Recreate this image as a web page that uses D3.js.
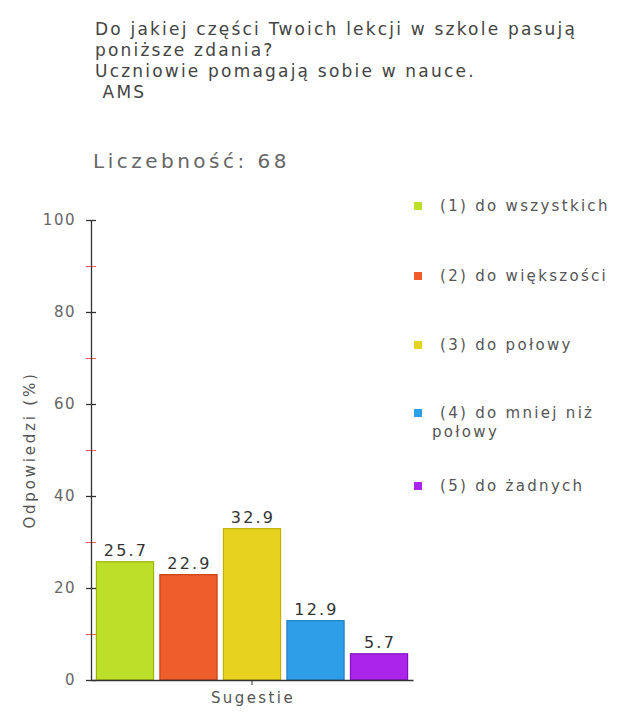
<!DOCTYPE html>
<html>
<head>
<meta charset="utf-8">
<script src="https://cdn.jsdelivr.net/npm/d3@7"></script>
<style>
  body { margin: 0; background: #fff; }
  svg text { font-family: "DejaVu Sans", Verdana, sans-serif; }
</style>
</head>
<body>
<div id="chart"></div>
<script>
// data
const titleLines = ["Do jakiej części Twoich lekcji w szkole pasują", "poniższe zdania?", "Uczniowie pomagają sobie w nauce.", " AMS"];
const countLabel = "Liczebność: 68";
const categories = ["(1) do wszystkich", "(2) do większości", "(3) do połowy", "(4) do mniej niż połowy", "(5) do żadnych"];
const values = [25.7, 22.9, 32.9, 12.9, 5.7];
const fills = ["#bddf2a", "#ee5d2c", "#e6d21f", "#2f9ee8", "#ab24ea"];
const strokes = ["#9db400", "#c8400f", "#c4b000", "#1f7fc8", "#8010c0"];
const majorTicks = [0, 20, 40, 60, 80, 100];
const minorTicks = [10, 30, 50, 70, 90];
const xLabel = "Sugestie";
const yLabel = "Odpowiedzi (%)";

const W = 627, H = 713;
const plot = { left: 91, right: 413, top: 220, bottom: 680 };

const svg = d3.select("#chart").append("svg")
    .attr("width", W)
    .attr("height", H);

// title
svg.append("g").selectAll("text")
    .data(titleLines)
    .enter()
    .append("text")
    .attr("x", 95)
    .attr("y", function (d, i) { return 35 + i * 21; })
    .attr("font-size", "17px")
    .attr("letter-spacing", "2.2px")
    .attr("fill", "#444")
    .style("white-space", "pre")
    .text(function (d) { return d; });

svg.append("text")
    .attr("x", 93)
    .attr("y", 168)
    .attr("font-size", "20px")
    .attr("letter-spacing", "3.5px")
    .attr("fill", "#666")
    .text(countLabel);

const y = d3.scaleLinear()
    .domain([0, 100])
    .range([plot.bottom, plot.top]);

const x = d3.scaleBand()
    .domain(categories)
    .range([plot.left, plot.right])
    .paddingInner(0.1)
    .paddingOuter(0.085);

// bars
svg.append("g").selectAll("rect")
    .data(values)
    .enter()
    .append("rect")
    .attr("x", function (d, i) { return x(categories[i]); })
    .attr("y", function (d) { return y(d); })
    .attr("width", x.bandwidth())
    .attr("height", function (d) { return y(0) - y(d); })
    .attr("fill", function (d, i) { return fills[i]; })
    .attr("stroke", function (d, i) { return strokes[i]; })
    .attr("stroke-width", 1.2);

// value labels
svg.append("g").selectAll("text")
    .data(values)
    .enter()
    .append("text")
    .attr("x", function (d, i) { return x(categories[i]) + x.bandwidth() / 2 + 1; })
    .attr("y", function (d) { return y(d) - 6; })
    .attr("text-anchor", "middle")
    .attr("font-size", "16px")
    .attr("letter-spacing", "2.2px")
    .attr("fill", "#333")
    .text(function (d) { return d.toFixed(1); });

// y axis: minor red ticks, then the black axis with major ticks
const yMinor = svg.append("g")
    .attr("transform", "translate(" + plot.left + ",0)")
    .call(d3.axisLeft(y).tickValues(minorTicks).tickSize(5).tickFormat(""));
yMinor.select(".domain").remove();
yMinor.selectAll(".tick line").attr("stroke", "#ff5a5a").attr("x2", 5).attr("x1", -5);

const yAxis = svg.append("g")
    .attr("transform", "translate(" + plot.left + ",0)")
    .call(d3.axisLeft(y).tickValues(majorTicks).tickSize(5).tickSizeOuter(0).tickPadding(10));
yAxis.select(".domain").attr("stroke", "#333").attr("stroke-width", 1.3);
yAxis.selectAll(".tick line").attr("stroke", "#333").attr("x1", 5).attr("stroke-width", 1.3);
yAxis.selectAll(".tick text")
    .attr("font-family", "DejaVu Sans, sans-serif")
    .attr("font-size", "15px")
    .attr("letter-spacing", "1.5px")
    .attr("fill", "#666");

// x axis with one tick in the middle
const xMid = d3.scaleBand().domain([xLabel]).range([plot.left, plot.right]);
const xAxis = svg.append("g")
    .attr("transform", "translate(0," + plot.bottom + ")")
    .call(d3.axisBottom(xMid).tickSize(5).tickSizeOuter(0).tickFormat(""));
xAxis.select(".domain").attr("stroke", "#333").attr("stroke-width", 1.5);
xAxis.selectAll(".tick line").attr("stroke", "#333");

svg.append("text")
    .attr("x", (plot.left + plot.right) / 2 + 1)
    .attr("y", 703)
    .attr("text-anchor", "middle")
    .attr("font-size", "15px")
    .attr("letter-spacing", "2.4px")
    .attr("fill", "#555")
    .text(xLabel);

svg.append("text")
    .attr("transform", "translate(35," + (plot.top + plot.bottom) / 2 + ") rotate(-90)")
    .attr("text-anchor", "middle")
    .attr("font-size", "15px")
    .attr("letter-spacing", "2.8px")
    .attr("fill", "#555")
    .text(yLabel);

// legend
const legendY = [206, 276, 345, 413, 486];
const legend = svg.append("g").selectAll("g")
    .data(categories)
    .enter()
    .append("g")
    .attr("transform", function (d, i) { return "translate(418," + legendY[i] + ")"; });

legend.append("rect")
    .attr("x", -4)
    .attr("y", -4)
    .attr("width", 8)
    .attr("height", 8)
    .attr("fill", function (d, i) { return fills[i]; });

legend.append("text")
    .attr("font-size", "15px")
    .attr("letter-spacing", "2.3px")
    .attr("fill", "#555")
    .each(function (d) {
        const t = d3.select(this);
        const parts = d === "(4) do mniej niż połowy" ? ["(4) do mniej niż", "połowy"] : [d];
        parts.forEach(function (p, j) {
            t.append("tspan")
                .attr("x", j === 0 ? 22 : 14)
                .attr("dy", j === 0 ? "0.35em" : "19")
                .text(p);
        });
    });
</script>
</body>
</html>
